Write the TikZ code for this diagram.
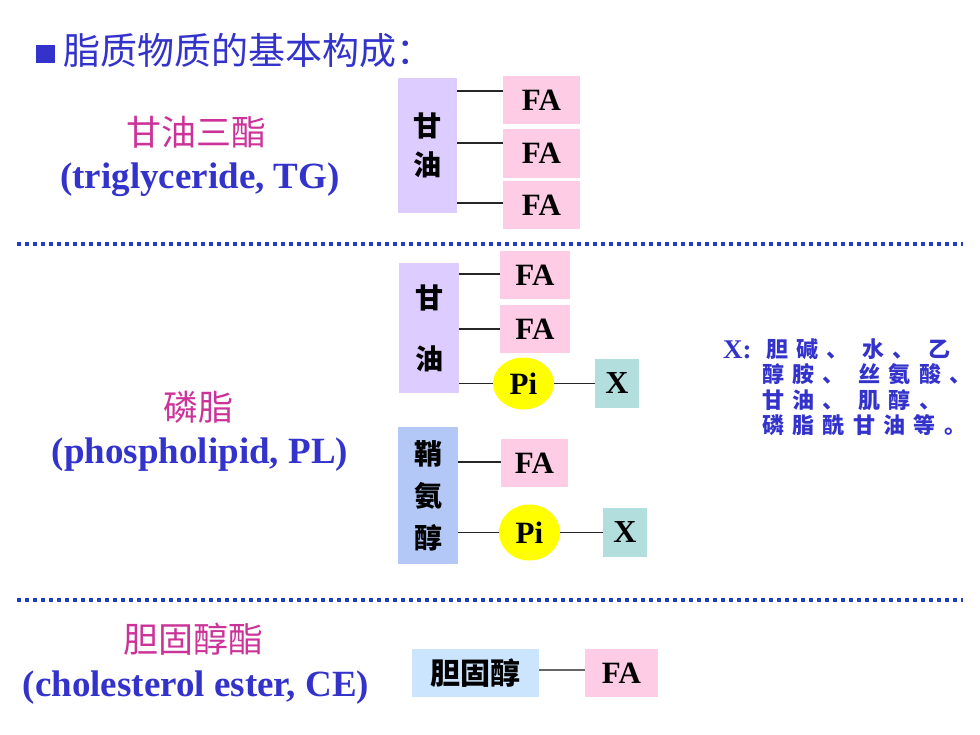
\documentclass[tikz,border=0pt]{standalone}
\usepackage{fontspec}
\usetikzlibrary{shapes.geometric}
\setmainfont{Liberation Serif}
\newfontfamily\cjk{Noto Sans CJK SC}
\newfontfamily\cjkls[LetterSpace=38]{Noto Sans CJK SC}
\definecolor{tblue}{HTML}{3333CC}
\definecolor{dotblue}{HTML}{1F3FBF}
\definecolor{tpink}{HTML}{CC3399}
\definecolor{glyc}{HTML}{DDCCFF}
\definecolor{fapink}{HTML}{FFCCE6}
\definecolor{sphblue}{HTML}{B4C8F8}
\definecolor{cholblue}{HTML}{CCE5FF}
\definecolor{xteal}{HTML}{B3DEDE}
\definecolor{piyel}{HTML}{FFFF00}
\begin{document}
\begin{tikzpicture}[x=1pt,y=-1pt,
  cnlab/.style={inner sep=0pt, text=tpink, font=\fontsize{35}{35}\selectfont\cjk},
  enlab/.style={inner sep=0pt, text=tblue, font=\fontsize{37}{37}\selectfont\bfseries},
  glybox/.style={fill=glyc, inner sep=0pt, align=center},
  fabox/.style={fill=fapink, inner sep=0pt, font=\fontsize{31}{31}\selectfont\bfseries},
  xbox/.style={fill=xteal, inner sep=0pt, font=\fontsize{32}{32}\selectfont\bfseries},
  pinode/.style={ellipse, fill=piyel, inner sep=0pt, font=\fontsize{31}{31}\selectfont\bfseries},
  conn/.style={line width=1.3pt, black!85},
  dotline/.style={line width=3.5pt, dotblue, dash pattern=on 3.5pt off 4.5pt},
  rtext/.style={anchor=west, inner sep=0pt, text=tblue, font=\fontsize{22}{22}\selectfont\cjkls\bfseries}
]
\useasboundingbox (0,0) rectangle (980,735);

% title
\node[fill=tblue, minimum width=19pt, minimum height=18pt, inner sep=0pt] (sq) at (45.5,54) {};
\node[anchor=west, inner sep=0pt, text=tblue, font=\fontsize{37}{37}\selectfont\cjk] (title) at (63,50) {脂质物质的基本构成：};

% left labels
\node[cnlab] (tgcn) at (196,132) {甘油三酯};
\node[enlab] (tgen) at (200,180) {(triglyceride, TG)};
\node[cnlab] (plcn) at (198,407) {磷脂};
\node[enlab] (plen) at (200,455) {(phospholipid, PL)};
\node[cnlab] (cecn) at (193,639) {胆固醇酯};
\node[enlab] (ceen) at (196,688) {(cholesterol ester, CE)};

% TG
\node[glybox, minimum width=59pt, minimum height=135pt, font=\fontsize{28}{39}\selectfont\cjk\bfseries] (g1) at (427.5,145.5) {甘\\油};
\node[fabox, minimum width=77pt, minimum height=48pt] (fa1) at (541.5,100) {FA};
\node[fabox, minimum width=77pt, minimum height=49pt] (fa2) at (541.5,153.5) {FA};
\node[fabox, minimum width=77pt, minimum height=48pt] (fa3) at (541.5,205) {FA};
\coordinate (l1) at (0,91);
\coordinate (l2) at (0,143);
\coordinate (l3) at (0,203);
\draw[conn] (g1.east |- l1) -- (fa1.west |- l1);
\draw[conn] (g1.east |- l2) -- (fa2.west |- l2);
\draw[conn] (g1.east |- l3) -- (fa3.west |- l3);

% dotted separators
\coordinate (d1a) at (17,244);
\coordinate (d1b) at (963,244);
\coordinate (d2a) at (17,600);
\coordinate (d2b) at (963,600);
\draw[dotline] (d1a) -- (d1b);
\draw[dotline] (d2a) -- (d2b);

% PL glycerol
\node[glybox, minimum width=60pt, minimum height=130pt, font=\fontsize{28}{61}\selectfont\cjk\bfseries] (g2) at (429,328) {甘\\油};
\node[fabox, minimum width=70pt, minimum height=48pt] (fa4) at (535,275) {FA};
\node[fabox, minimum width=70pt, minimum height=48pt] (fa5) at (535,329) {FA};
\node[pinode, minimum width=61pt, minimum height=52pt] (pi1) at (523.5,383.5) {Pi};
\node[xbox, minimum width=44pt, minimum height=49pt] (x1) at (617,383.5) {X};
\coordinate (l4) at (0,274);
\coordinate (l5) at (0,329);
\draw[conn] (g2.east |- l4) -- (fa4.west |- l4);
\draw[conn] (g2.east |- l5) -- (fa5.west |- l5);
\draw[conn] (g2.east |- pi1) -- (pi1.west);
\draw[conn] (pi1.east) -- (x1.west);

% PL sphingosine
\node[fill=sphblue, inner sep=0pt, align=center, minimum width=60pt, minimum height=137pt, font=\fontsize{28}{42}\selectfont\cjk\bfseries] (sph) at (428,495.5) {鞘\\氨\\醇};
\node[fabox, minimum width=67pt, minimum height=48pt] (fa6) at (534.5,463) {FA};
\node[pinode, minimum width=61pt, minimum height=56pt] (pi2) at (529.5,532.5) {Pi};
\node[xbox, minimum width=44pt, minimum height=49pt] (x2) at (625,532.5) {X};
\coordinate (l6) at (0,462);
\draw[conn] (sph.east |- l6) -- (fa6.west |- l6);
\draw[conn] (sph.east |- pi2) -- (pi2.west);
\draw[conn] (pi2.east) -- (x2.west);

% X list
\node[anchor=west, inner sep=0pt, text=tblue, font=\fontsize{27}{27}\selectfont\bfseries] (xl) at (723,350) {X:};
\node[rtext] (r1) at (766,349) {胆碱、 水、 乙};
\node[rtext] (r2) at (762,374) {醇胺、 丝氨酸、};
\node[rtext] (r3) at (762,400) {甘油、 肌醇、};
\node[rtext] (r4) at (762,425) {磷脂酰甘油等。};

% CE
\node[fill=cholblue, inner sep=0pt, minimum width=127pt, minimum height=48pt, font=\fontsize{30}{30}\selectfont\cjk\bfseries] (chol) at (475.5,673) {胆固醇};
\node[fabox, minimum width=73pt, minimum height=48pt] (fa7) at (621.5,673) {FA};
\coordinate (l7) at (0,670);
\draw[line width=1.3pt, black!60] (chol.east |- l7) -- (fa7.west |- l7);
\end{tikzpicture}
\end{document}
